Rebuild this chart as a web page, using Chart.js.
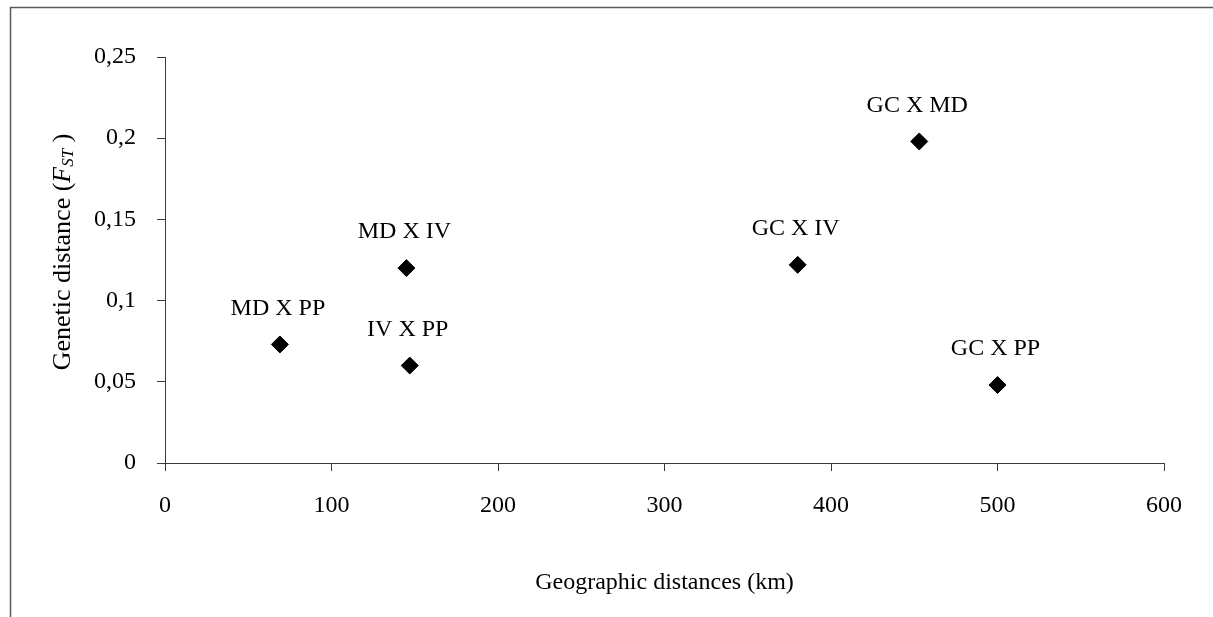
<!DOCTYPE html>
<html>
<head>
<meta charset="utf-8">
<script src="https://cdn.jsdelivr.net/npm/chart.js@4/dist/chart.umd.min.js"></script>
<style>
  html, body { margin: 0; padding: 0; background: #fff; }
  #wrap { width: 1213px; height: 617px; }
</style>
</head>
<body>
<div id="wrap"><canvas id="chart" width="1213" height="617"></canvas></div>
<script>
// Population pairs and their distances
const pairLabels = ['MD X PP', 'MD X IV', 'IV X PP', 'GC X IV', 'GC X MD', 'GC X PP'];
const geoKm = [69, 145, 147, 380, 453, 500];
const fst = [0.073, 0.120, 0.060, 0.122, 0.198, 0.048];

const xTicks = [0, 100, 200, 300, 400, 500, 600];
const yTicks = [0, 0.05, 0.1, 0.15, 0.2, 0.25];

const FONT = "'Liberation Serif', 'Times New Roman', serif";
const AXIS_COLOR = '#3a3a3a';

// outer frame like the Excel chart border (left + top only visible)
const framePlugin = {
  id: 'frame',
  beforeDraw(chart) {
    const ctx = chart.ctx;
    ctx.save();
    ctx.strokeStyle = '#5a5a5a';
    ctx.lineWidth = 1.5;
    ctx.beginPath();
    ctx.moveTo(10.5, chart.height);
    ctx.lineTo(10.5, 7.5);
    ctx.lineTo(chart.width, 7.5);
    ctx.stroke();
    ctx.restore();
  }
};

// y axis title with italic F and subscript ST
const yTitlePlugin = {
  id: 'yTitle',
  afterDraw(chart) {
    const ctx = chart.ctx;
    const area = chart.chartArea;
    const parts = [
      { t: 'Genetic distance (', f: '26px ' + FONT, dy: 0 },
      { t: 'F', f: 'italic 26px ' + FONT, dy: 0 },
      { t: 'ST', f: 'italic 17px ' + FONT, dy: 6 },
      { t: ' )', f: '26px ' + FONT, dy: 0 }
    ];
    ctx.save();
    let total = 0;
    parts.forEach(p => { ctx.font = p.f; p.w = ctx.measureText(p.t).width; total += p.w; });
    ctx.translate(63, (area.top + area.bottom) / 2 - 8);
    ctx.rotate(-Math.PI / 2);
    ctx.fillStyle = '#000';
    ctx.textBaseline = 'middle';
    ctx.textAlign = 'left';
    let x = -total / 2;
    parts.forEach(p => {
      ctx.font = p.f;
      ctx.fillText(p.t, x, p.dy);
      x += p.w;
    });
    ctx.restore();
  }
};

// point labels above each marker
const pointLabelPlugin = {
  id: 'pointLabels',
  afterDatasetsDraw(chart) {
    const ctx = chart.ctx;
    const meta = chart.getDatasetMeta(0);
    ctx.save();
    ctx.font = '24px ' + FONT;
    ctx.fillStyle = '#000';
    ctx.textAlign = 'center';
    ctx.textBaseline = 'middle';
    meta.data.forEach((pt, i) => {
      ctx.fillText(pairLabels[i], pt.x - 2, pt.y - 36);
    });
    ctx.restore();
  }
};

new Chart(document.getElementById('chart'), {
  type: 'scatter',
  data: {
    datasets: [{
      data: geoKm.map((x, i) => ({ x: x, y: fst[i] })),
      pointStyle: 'rectRot',
      pointRadius: 8.5,
      pointHoverRadius: 8.5,
      backgroundColor: '#000',
      borderColor: '#000',
      borderWidth: 1
    }]
  },
  options: {
    responsive: false,
    animation: false,
    events: [],
    layout: { padding: { top: 57, right: 49, left: 0, bottom: 0 } },
    plugins: {
      legend: { display: false },
      tooltip: { enabled: false }
    },
    scales: {
      x: {
        type: 'linear',
        min: 0,
        max: 600,
        afterBuildTicks(scale) { scale.ticks = xTicks.map(v => ({ value: v })); },
        afterFit(scale) { scale.height = 154; },
        grid: { drawOnChartArea: false, drawTicks: true, tickLength: 8, color: AXIS_COLOR },
        border: { display: true, color: AXIS_COLOR, width: 1 },
        ticks: {
          color: '#000',
          font: { family: FONT, size: 24 },
          padding: 20,
          maxRotation: 0
        },
        title: {
          display: true,
          text: 'Geographic distances (km)',
          color: '#000',
          font: { family: FONT, size: 24 },
          padding: { top: 0, bottom: 20 }
        }
      },
      y: {
        type: 'linear',
        min: 0,
        max: 0.25,
        afterBuildTicks(scale) { scale.ticks = yTicks.map(v => ({ value: v })); },
        afterFit(scale) { scale.width = 165; },
        grid: { drawOnChartArea: false, drawTicks: true, tickLength: 8, color: AXIS_COLOR },
        border: { display: true, color: AXIS_COLOR, width: 1 },
        ticks: {
          color: '#000',
          font: { family: FONT, size: 24 },
          padding: 21,
          callback: v => String(Math.round(v * 100) / 100).replace('.', ',')
        }
      }
    }
  },
  plugins: [framePlugin, yTitlePlugin, pointLabelPlugin]
});
</script>
</body>
</html>
